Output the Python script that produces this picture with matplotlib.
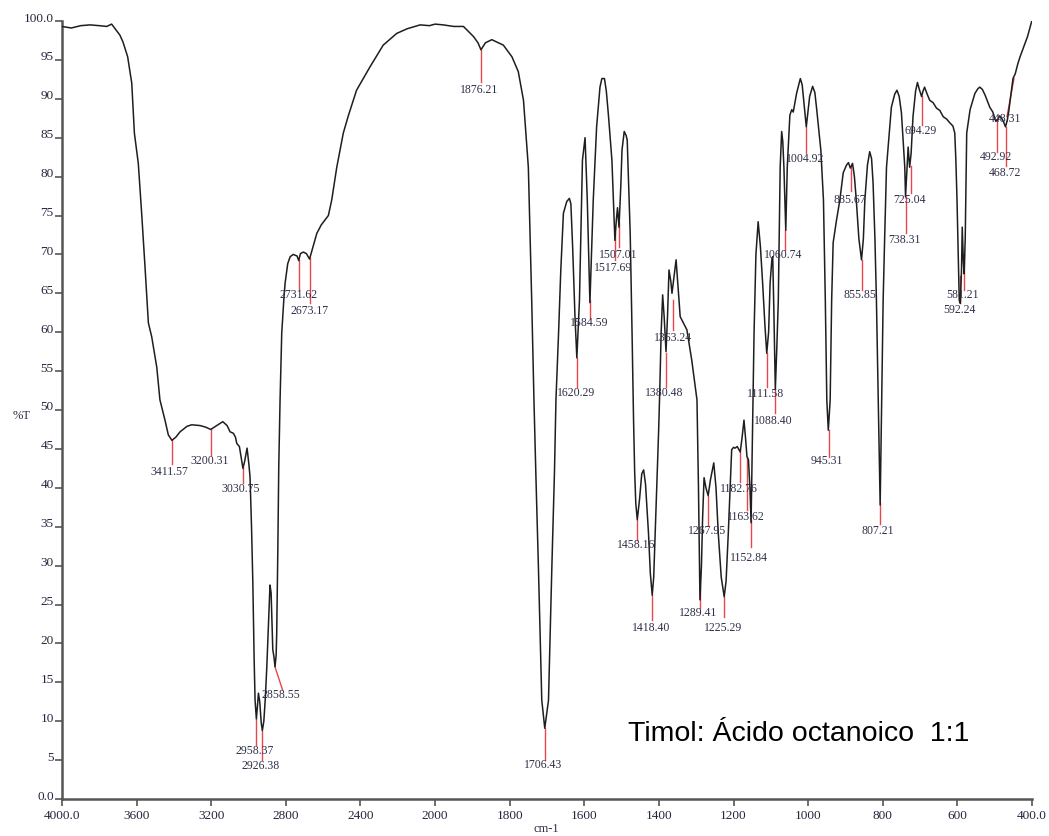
import numpy as np
import matplotlib
matplotlib.use("Agg")
import matplotlib.pyplot as plt
import matplotlib.transforms as mtransforms

# spectrum (wavenumber cm-1, %T)
wavenumber = [
    4000, 3950, 3900, 3850, 3800, 3760, 3734, 3715, 3690, 3673, 3648, 3626,
    3612, 3591, 3573, 3555, 3537, 3519, 3492, 3475, 3448, 3430, 3411, 3390,
    3367, 3330, 3305, 3260, 3230, 3203, 3170, 3138, 3115, 3099, 3081, 3070,
    3063, 3049, 3040, 3030, 3020, 3008, 2998, 2992, 2984, 2977, 2970, 2965,
    2958, 2952, 2947, 2940, 2932, 2926, 2918, 2910, 2902, 2893, 2885, 2879,
    2876, 2870, 2864, 2858, 2852, 2849, 2843, 2838, 2831, 2822, 2810, 2804,
    2790, 2777, 2760, 2751, 2740, 2731, 2722, 2706, 2690, 2673, 2660, 2645,
    2634, 2610, 2572, 2554, 2527, 2492, 2464, 2421, 2349, 2278, 2206, 2150,
    2080, 2030, 2000, 1978, 1950, 1924, 1897, 1885, 1877, 1865, 1848, 1830,
    1817, 1794, 1777, 1763, 1750, 1741, 1735, 1730, 1723, 1714, 1706, 1696,
    1687, 1680, 1676, 1669, 1663, 1656, 1647, 1640, 1636, 1631, 1625, 1620,
    1613, 1605, 1598, 1592, 1585, 1576, 1567, 1558, 1553, 1546, 1541, 1535,
    1526, 1522, 1518, 1514, 1511, 1507, 1502, 1499, 1493, 1488, 1485, 1477,
    1472, 1468, 1465, 1462, 1458, 1452, 1446, 1441, 1436, 1428, 1423, 1418,
    1414, 1410, 1405, 1401, 1398, 1394, 1390, 1386, 1381, 1377, 1373, 1368,
    1365, 1360, 1354, 1349, 1343, 1325, 1312, 1298, 1294, 1290, 1286, 1283,
    1279, 1274, 1268, 1262, 1253, 1247, 1241, 1233, 1225, 1220, 1214, 1209,
    1205, 1200, 1196, 1190, 1182, 1177, 1172, 1168, 1164, 1160, 1156, 1153,
    1150, 1147, 1145, 1140, 1134, 1128, 1122, 1116, 1111, 1106, 1102, 1097,
    1095, 1092, 1088, 1084, 1080, 1075, 1071, 1068, 1065, 1060, 1056, 1049,
    1044, 1040, 1031, 1021, 1016, 1012, 1005, 1000, 996, 988, 982, 977,
    966, 959, 954, 950, 946, 941, 937, 933, 924, 915, 906, 897,
    892, 887, 881, 876, 871, 864, 857, 852, 848, 841, 835, 830,
    826, 821, 817, 812, 807, 803, 799, 795, 790, 777, 768, 762,
    756, 750, 741, 739, 735, 732, 728, 724, 719, 712, 707, 702,
    696, 692, 688, 681, 674, 665, 656, 647, 638, 629, 620, 612,
    607, 604, 601, 597, 595, 592, 589, 587, 584, 582, 579, 575,
    566, 553, 545, 540, 533, 526, 513, 505, 497, 492, 487, 480,
    476, 471, 466, 462, 458, 451, 445, 438, 432, 425, 418, 412,
    405, 400,
]
transmittance = [
    99.3, 99.1, 99.4, 99.5, 99.4, 99.3, 99.6, 99.0, 98.2, 97.3, 95.4, 92.0,
    85.6, 81.7, 75.3, 68.4, 61.2, 59.4, 55.5, 51.3, 48.7, 46.8, 46.1, 46.5,
    47.2, 47.9, 48.1, 48.0, 47.8, 47.5, 48.0, 48.5, 48.0, 47.2, 47.0, 46.5,
    45.7, 45.3, 44.0, 42.5, 43.5, 45.1, 43.0, 41.4, 35.0, 27.8, 18.0, 12.7,
    10.3, 12.0, 13.6, 12.5, 9.8, 8.8, 10.0, 13.0, 17.0, 22.5, 27.5, 26.5,
    23.9, 19.2, 18.3, 17.0, 18.5, 21.3, 32.0, 42.7, 51.3, 59.9, 64.5, 66.3,
    68.8, 69.7, 70.0, 69.9, 69.8, 69.2, 70.1, 70.3, 70.1, 69.4, 70.5, 71.8,
    72.7, 73.8, 75.0, 77.0, 81.2, 85.6, 87.9, 91.1, 94.1, 96.9, 98.4, 99.0,
    99.5, 99.4, 99.6, 99.5, 99.3, 99.3, 98.0, 97.2, 96.3, 97.2, 97.6, 97.2,
    96.9, 95.4, 93.5, 89.8, 81.2, 64.1, 51.3, 42.0, 29.8, 12.7, 9.1, 12.7,
    29.8, 42.0, 51.3, 59.9, 68.0, 75.3, 76.8, 77.2, 76.5, 70.6, 62.0, 56.7,
    64.1, 82.1, 85.0, 77.0, 63.8, 77.0, 86.4, 91.5, 92.6, 92.6, 91.0, 87.7,
    82.1, 77.0, 71.8, 74.5, 76.0, 73.5, 79.0, 83.4, 85.8, 85.3, 84.7, 72.7,
    59.9, 48.7, 42.0, 38.0, 35.9, 38.5, 41.8, 42.3, 40.5, 34.2, 29.0, 26.2,
    28.5, 34.2, 41.0, 47.0, 52.0, 60.0, 64.8, 62.0, 57.5, 62.0, 68.0, 66.5,
    65.0, 67.0, 69.3, 66.0, 62.0, 60.3, 56.4, 51.3, 40.0, 25.6, 30.0, 36.0,
    41.3, 40.0, 39.0, 41.0, 43.2, 40.0, 34.2, 28.5, 26.0, 28.0, 34.2, 40.0,
    44.9, 45.2, 45.1, 45.3, 44.6, 46.5, 48.7, 46.5, 44.0, 43.6, 40.0, 35.5,
    45.0, 55.0, 59.9, 70.0, 74.2, 71.0, 66.3, 61.0, 57.3, 60.0, 66.3, 69.5,
    69.7, 63.0, 52.6, 58.0, 64.1, 81.2, 85.8, 84.5, 81.2, 73.1, 81.2, 87.9,
    88.6, 88.3, 90.7, 92.6, 91.8, 89.8, 86.4, 88.5, 90.3, 91.6, 90.8, 88.6,
    83.4, 77.0, 64.1, 51.3, 47.4, 51.3, 64.1, 71.5, 74.4, 77.0, 80.5, 81.5,
    81.8, 81.1, 81.7, 80.0, 77.0, 72.0, 69.3, 72.0, 77.0, 81.5, 83.2, 82.3,
    79.2, 72.0, 64.1, 51.3, 37.8, 51.3, 64.1, 72.0, 81.2, 88.9, 90.6, 91.1,
    90.3, 88.2, 81.2, 77.4, 81.0, 83.8, 81.2, 83.0, 87.7, 91.0, 92.1, 91.2,
    90.3, 91.0, 91.5, 90.6, 89.8, 89.5, 88.8, 88.5, 87.7, 87.4, 86.9, 86.5,
    85.6, 82.0, 77.0, 68.0, 64.1, 63.7, 68.0, 73.5, 69.0, 67.5, 72.0, 85.6,
    88.6, 90.7, 91.3, 91.5, 91.2, 90.5, 88.9, 88.3, 87.1, 87.3, 87.8, 87.4,
    87.0, 86.4, 87.3, 88.5, 90.0, 92.6, 93.2, 94.5, 95.4, 96.3, 97.2, 98.0,
    99.2, 100.1,
]

# picked peaks
peak_wn = [
    3411.57, 3200.31, 3030.75, 2958.37, 2926.38, 2858.55, 2731.62, 2673.17,
    1876.21, 1706.43, 1620.29, 1584.59, 1517.69, 1507.01, 1458.16, 1418.40,
    1380.48, 1363.24, 1289.41, 1267.95, 1225.29, 1182.76, 1163.62, 1152.84,
    1111.58, 1088.40, 1060.74, 1004.92, 945.31, 885.67, 855.85, 807.21,
    738.31, 725.04, 694.29, 592.24, 581.21, 492.92, 468.72, 448.31,
]

x_ticks = [4000, 3600, 3200, 2800, 2400, 2000, 1800, 1600, 1400, 1200, 1000, 800, 600, 400]
x_ticklabels = ["4000.0", "3600", "3200", "2800", "2400", "2000", "1800", "1600",
                "1400", "1200", "1000", "800", "600", "400.0"]
y_ticks = list(range(0, 101, 5))
y_ticklabels = ["0.0"] + [str(v) for v in range(5, 100, 5)] + ["100.0"]

# marker layout: line top, line bottom, label y (%T), label dx (px), line bottom dx (px)
mark_layout = [
    (46.1, 43.0, 42.0, -2, 0), (47.5, 44.2, 43.4, -1.6, 0), (42.5, 40.6, 39.8, -2, 0),
    (10.3, 6.9, 6.2, -2, 0), (8.8, 5.0, 4.3, -2, 0), (17.0, 14.0, 13.4, 5.6, 7.7),
    (69.3, 65.4, 64.8, 0, 0), (69.5, 63.8, 62.7, 0, 0), (96.3, 92.2, 91.1, -2, 0),
    (9.1, 5.0, 4.4, -1.6, 0), (56.7, 53.0, 52.2, -1, 0), (64.1, 61.8, 61.2, -1, 0),
    (72.7, 69.3, 68.2, -2, 0), (74.0, 71.0, 69.9, -1, 0), (35.9, 33.3, 32.6, -1, 0),
    (26.2, 23.0, 22.0, -1, 0), (57.3, 53.0, 52.2, -1.6, 0), (64.1, 60.3, 59.3, 0, 0),
    (27.3, 24.5, 23.9, -2, 0), (38.9, 35.2, 34.5, -1, 0), (26.0, 23.4, 22.0, -1.5, 0),
    (44.6, 40.7, 39.8, -1, 0), (43.8, 37.1, 36.2, -1.5, 0), (35.9, 32.4, 31.0, -2, 0),
    (57.3, 53.0, 52.1, -1, 0), (52.6, 49.6, 48.6, -1.5, 0), (73.1, 70.6, 69.9, -2, 0),
    (86.4, 83.0, 82.2, -1, 0), (47.4, 44.0, 43.4, -2, 0), (81.3, 78.1, 77.0, -1, 0),
    (69.3, 65.4, 64.8, -2, 0), (38.0, 35.4, 34.5, -2, 0), (77.4, 72.7, 71.8, -1.5, 0),
    (81.3, 77.9, 77.0, -1, 0), (90.3, 86.6, 85.9, -1.5, 0), (67.2, 63.7, 62.8, -1, 0),
    (70.1, 65.4, 64.8, -1.5, 0), (87.1, 83.2, 82.5, -1, 0), (86.4, 81.3, 80.5, -1, 0),
    (92.6, 87.7, 87.4, -8.8, -7),
]


# the x axis is compressed 2:1 above 2000 cm-1
def fwd(x):
    x = np.asarray(x, dtype=float)
    return np.where(x >= 2000, x, 2 * x - 2000)


def inv(u):
    u = np.asarray(u, dtype=float)
    return np.where(u >= 2000, u, (u + 2000) / 2)


serif = "Liberation Serif"
label_color = "#2e2e48"

fig = plt.figure(figsize=(10.49, 8.36), dpi=100)
ax = fig.add_axes([62 / 1049, 37 / 836, 970 / 1049, 778 / 836])
ax.set_xscale("function", functions=(fwd, inv))
ax.set_xlim(4000, 400)
ax.set_ylim(0, 100)

ax.plot(wavenumber, transmittance, color="#1e1e1e", lw=1.1, zorder=3)

for wn, (top, bot, ty, tdx, ldx) in zip(peak_wn, mark_layout):
    p1 = ax.transData.transform((wn, bot)) + np.array([ldx, 0])
    p1 = ax.transData.inverted().transform(p1)
    ax.plot([wn, p1[0]], [top, p1[1]], color="#e8454c", lw=1.0, zorder=2)
    shift = mtransforms.ScaledTranslation(tdx / 100, 0, fig.dpi_scale_trans)
    ax.text(wn, ty, f"{wn:.2f}", transform=ax.transData + shift,
            ha="center", va="center", fontsize=8.5, family=serif,
            color=label_color, zorder=4)

ax.text(1483, 7.5, "Timol: Ácido octanoico  1:1", fontsize=20.5,
        family="Liberation Sans", color="black", va="baseline", ha="left")

ax.set_xticks(x_ticks)
ax.set_xticklabels(x_ticklabels)
ax.set_yticks(y_ticks)
ax.set_yticklabels(y_ticklabels)
ax.minorticks_off()
ax.tick_params(axis="both", direction="out", length=5, width=1.2,
               color="#555555", labelsize=9.5, labelcolor="#25253d")
ax.tick_params(axis="x", pad=3)
ax.tick_params(axis="y", pad=1)
for lab in ax.get_xticklabels() + ax.get_yticklabels():
    lab.set_family(serif)
for lab in ax.get_yticklabels():
    lab.set_transform(lab.get_transform() +
                      mtransforms.ScaledTranslation(0, 4 / 100, fig.dpi_scale_trans))

for side in ["top", "right"]:
    ax.spines[side].set_visible(False)
for side in ["left", "bottom"]:
    ax.spines[side].set_color("#555555")
    ax.spines[side].set_linewidth(1.8)

fig.text(13 / 1049, (836 - 416) / 836, "%T", family=serif, fontsize=9,
         color=label_color, ha="left", va="center")
fig.text(546 / 1049, (836 - 829) / 836, "cm-1", family=serif, fontsize=9,
         color=label_color, ha="center", va="center")

fig.savefig("out.png", dpi=100)
